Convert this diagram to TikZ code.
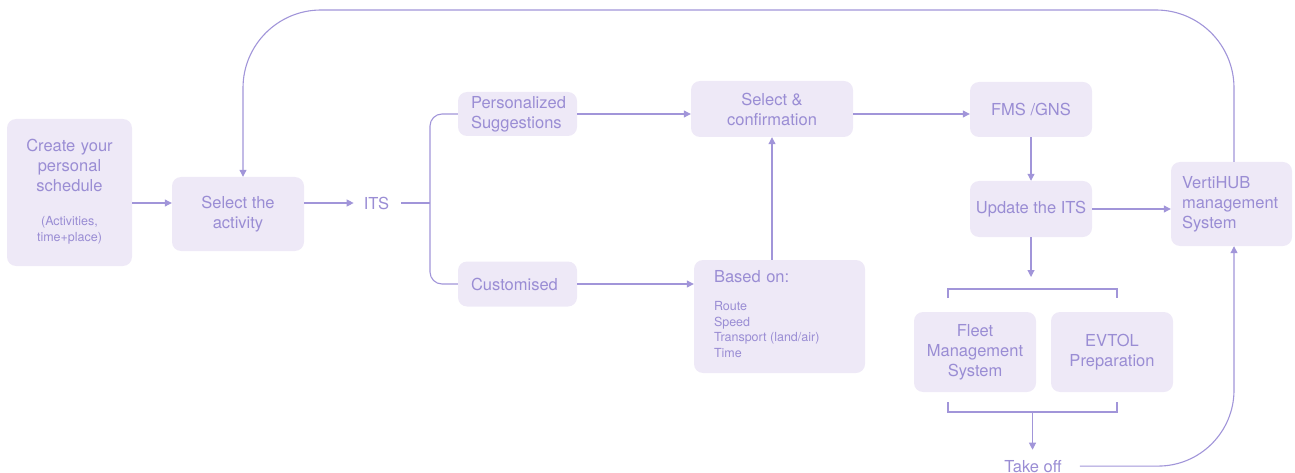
\documentclass[tikz,border=0pt]{standalone}
\usepackage{fontspec}
\setmainfont{TeX Gyre Heros}
\usetikzlibrary{arrows.meta}
\definecolor{txtc}{HTML}{9A8DD4}
\definecolor{fillc}{HTML}{EEE9F7}
\definecolor{linec}{HTML}{A195D9}
\newcommand{\smalltxt}{\fontsize{12.5}{15.5}\selectfont\spaceskip=0pt\xspaceskip=0pt\relax}
\begin{document}
\begin{tikzpicture}[x=1pt,y=-1pt,
  box/.style={fill=fillc, draw=none, rounded corners=9pt, text=txtc,
    font=\fontsize{16.5}{20}\selectfont, align=center, inner sep=0pt},
  plain/.style={text=txtc, font=\fontsize{16.5}{20}\selectfont, inner sep=0pt},
  ln/.style={draw=linec, line width=1.1pt},
  arr/.style={ln, -{Triangle[length=7pt,width=7pt]}}]
\useasboundingbox (0,0) rectangle (1295,473);

\node[box, minimum width=125pt, minimum height=147pt, text width=115pt] (create) at (69.5,192.5)
  {Create your\\personal\\schedule\par\vspace{14pt}{\smalltxt\begin{tabular}[t]{@{}c@{}}(Activities,\\time+place)\end{tabular}}};
\node[box, minimum width=132pt, minimum height=74pt] (select) at (238,214) {Select the\\activity};
\node[plain] (its) at (376.5,203) {ITS};
\node[box, minimum width=119pt, minimum height=44pt, text width=93pt, align=left] (pers) at (517.5,114)
  {Personalized\\Suggestions};
\node[box, minimum width=119pt, minimum height=45pt, text width=93pt, align=left] (cust) at (517.5,284)
  {Customised};
\node[box, minimum width=162pt, minimum height=56pt] (conf) at (772,109) {Select \&\\confirmation};
\node[box, minimum width=171pt, minimum height=113pt, text width=131pt, align=left] (based) at (779.5,316.5)
  {\vspace*{5pt}Based on:\par\vspace{3pt}{\smalltxt\begin{tabular}[t]{@{}l@{}}Route\\Speed\\Transport (land/air)\\Time\end{tabular}}};
\node[box, minimum width=122pt, minimum height=55pt] (fms) at (1031,109.5) {FMS /GNS};
\node[box, minimum width=122pt, minimum height=56pt] (upd) at (1031,209) {Update the ITS};
\node[box, minimum width=121pt, minimum height=84pt, text width=99pt, align=left] (verti) at (1231.5,204)
  {VertiHUB\\management\\System};
\node[box, minimum width=122pt, minimum height=80pt] (fleet) at (975,352) {Fleet\\Management\\System};
\node[box, minimum width=122pt, minimum height=80pt] (evtol) at (1112,352) {EVTOL\\Preparation};
\node[plain, anchor=base] (takeoff) at (1033,472) {Take off};

\coordinate (bx) at (430,203);
\coordinate (looptop) at (243,10);
\coordinate (splitin) at (1031,277);
\coordinate (splitout) at (1032.5,412);

% connectors
\draw[arr] (create.east |- its) -- (select.west |- its);
\draw[arr] (select.east |- its) -- ([xshift=-10pt]its.west);
\draw[ln] ([xshift=12pt]its.east) -- (bx);
\draw[ln, rounded corners=12pt] (pers.west) -| (bx) |- (cust.west);
\draw[arr] (pers.east) -- (pers.east -| conf.west);
\draw[arr] (cust.east) -- (cust.east -| based.west);
\draw[arr] (conf.south |- based.north) -- (conf.south);
\draw[arr] (conf.east |- pers.east) -- (fms.west |- pers.east);
\draw[arr] (fms.south) -- (upd.north);
\draw[arr] (upd.east) -- (upd.east -| verti.west);
\draw[arr] (upd.south) -- (splitin);
\draw[ln] (948,298) -- (948,289) -- (1117,289) -- (1117,298);
\draw[ln] (948,402) -- (948,412) -- (1117,412) -- (1117,402);
\draw[arr] (splitout) -- ([yshift=10pt]takeoff.north -| splitout);
\draw[arr, rounded corners=76pt] ([xshift=18pt]takeoff.east) -| ([xshift=2.5pt]verti.south);
\draw[arr, rounded corners=78pt] ([xshift=2.5pt]verti.north) |- (looptop) -- ([xshift=5pt]select.north);
\end{tikzpicture}
\end{document}
